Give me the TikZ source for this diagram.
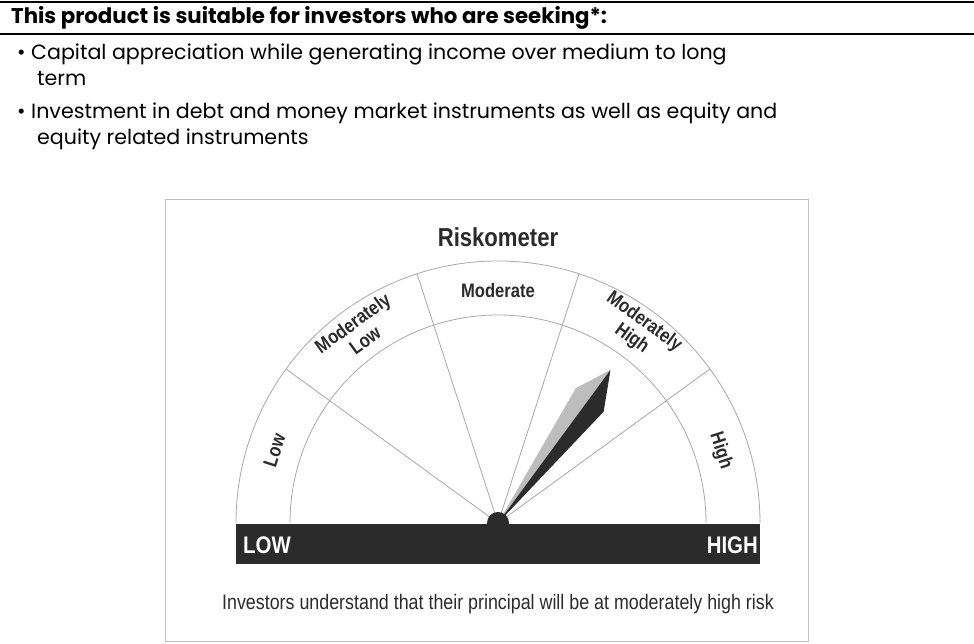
\documentclass[tikz,border=0pt]{standalone}
\usepackage{fontspec}
\setmainfont{Poppins}
\newfontfamily\cond[FakeStretch=0.85]{Liberation Sans}
\usetikzlibrary{calc}
\definecolor{gdark}{HTML}{2B2B2B}
\definecolor{glight}{HTML}{BDBDBD}
\definecolor{gline}{HTML}{A8A8A8}
\newcommand{\fsz}[1]{\fontsize{#1}{#1}\selectfont}
\begin{document}
\begin{tikzpicture}[x=1pt,y=1pt,
  rule/.style={line width=2.4pt, draw=black},
  arcline/.style={draw=gline, line width=0.8pt},
  toptext/.style={inner sep=0pt, anchor=base west, font=\fsz{20.6}},
  gaugelbl/.style={inner sep=0pt, align=center, font=\cond\bfseries\fontsize{19.5}{21}\selectfont, text=gdark}]
\useasboundingbox (0,0) rectangle (974,644);
\fill[white] (0,0) rectangle (974,644);
% top table rules
\coordinate (r1a) at (0,642); \coordinate (r1b) at (974,642);
\coordinate (r2a) at (0,610); \coordinate (r2b) at (974,610);
\draw[rule] (r1a) -- (r1b);
\draw[rule] (r2a) -- (r2b);
\node[toptext, font=\bfseries\fsz{21.3}] (head) at (11,620) {This product is suitable for investors who are seeking*:};
\node[toptext] (bul1) at (17,584) {•};
\node[toptext] (b1) at (31,584) {Capital appreciation while generating income over medium to long};
\node[toptext] (b1b) at (37,558) {term};
\node[toptext] (bul2) at (17,525) {•};
\node[toptext] (b2) at (31,525) {Investment in debt and money market instruments as well as equity and};
\node[toptext] (b2b) at (37,499) {equity related instruments};
% riskometer box
\draw[draw=gline!75, line width=1pt] (165,2) rectangle (808,444);
\node[inner sep=0pt, font=\cond\bfseries\fsz{26}, text=gdark] (title) at (498,407) {Riskometer};
\coordinate (C) at (498,121);
\draw[arcline] ([shift={(0:262)}]C) arc (0:180:262);
\draw[arcline] ([shift={(0:208)}]C) arc (0:180:208);
\foreach \a in {36,72,108,144} \draw[arcline] (C) -- ++(\a:262);
% needle
\coordinate (tip) at ($(C)+(53.7:190)$);
\coordinate (lv) at ($(C)+(60:155.6)$);
\coordinate (rv) at ($(C)+(46.5:153.5)$);
\fill[glight] (C) -- (lv) -- (tip) -- cycle;
\fill[gdark] (C) -- (tip) -- (rv) -- cycle;
% bar and hub
\fill[gdark] (C) circle (11);
\fill[gdark] (236,80) rectangle (760,120);
\node[inner sep=0pt, anchor=base west, font=\cond\bfseries\fsz{24}, text=white] (lowbar) at (243,90) {LOW};
\node[inner sep=0pt, anchor=base east, font=\cond\bfseries\fsz{24}, text=white] (highbar) at (758,90) {HIGH};
% section labels
\node[gaugelbl, rotate=72] (low) at ($(C)+(162:235)$) {Low};
\node[gaugelbl, rotate=36] (mlow) at ($(C)+(126:237)$) {Moderately\\Low};
\node[gaugelbl] (mod) at ($(C)+(90:232)$) {Moderate};
\node[gaugelbl, rotate=-36] (mhigh) at ($(C)+(54:238)$) {Moderately\\High};
\node[gaugelbl, rotate=-72] (high) at ($(C)+(18:234)$) {High};
\node[inner sep=0pt, font=\cond\fsz{21}, text=gdark] (foot) at (498,40) {Investors understand that their principal will be at moderately high risk};
\end{tikzpicture}
\end{document}
